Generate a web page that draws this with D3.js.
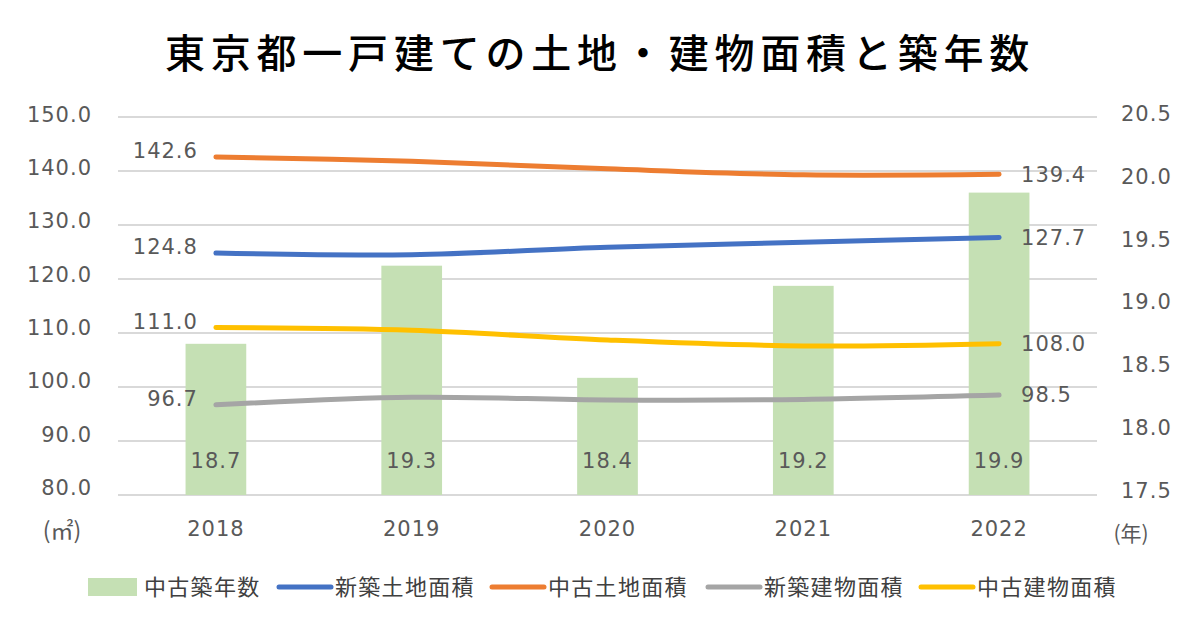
<!DOCTYPE html>
<html>
<head>
<meta charset="utf-8">
<script src="https://cdn.jsdelivr.net/npm/d3@7"></script>
<style>
  body { margin: 0; background: #fff; }
  text { font-family: "DejaVu Sans", Verdana, sans-serif; fill: #595959; }
  .jp { font-family: "Noto Sans CJK JP", sans-serif; }
</style>
</head>
<body>
<script>
const years = ["2018", "2019", "2020", "2021", "2022"]
const ageUsed = [18.7, 19.32, 18.43, 19.16, 19.9]        // 中古築年数 (right axis)
const landNew = [124.8, 124.5, 125.9, 126.8, 127.7]      // 新築土地面積
const landUsed = [142.6, 141.8, 140.4, 139.3, 139.4]     // 中古土地面積
const bldgNew = [96.7, 98.1, 97.6, 97.7, 98.5]           // 新築建物面積
const bldgUsed = [111.0, 110.5, 108.7, 107.6, 108.0]     // 中古建物面積
const leftTicks = [80, 90, 100, 110, 120, 130, 140, 150]
const rightTicks = [17.5, 18.0, 18.5, 19.0, 19.5, 20.0, 20.5]

const width = 1200
const height = 630

const series = [
    {name: "新築土地面積", values: landNew, color: "#4472C4"},
    {name: "中古土地面積", values: landUsed, color: "#ED7D31"},
    {name: "新築建物面積", values: bldgNew, color: "#A5A5A5"},
    {name: "中古建物面積", values: bldgUsed, color: "#FFC000"}
]
const barColor = "#C5E0B4"

const svg = d3.select("body").append("svg")
    .attr("width", width)
    .attr("height", height)

const x = d3.scaleBand().domain(years).range([118, 1097]).paddingInner(0.69).paddingOuter(0.345)
const yL = d3.scaleLinear().domain([80, 150]).range([495, 117])
const yR = d3.scaleLinear().domain([17.5, 20.5]).range([495, 117])
// tick labels sit on a slightly tighter spacing than the gridlines
const yLabL = d3.scaleLinear().domain([80, 150]).range([487, 114])
const yLabR = d3.scaleLinear().domain([17.5, 20.5]).range([490, 113])
const cx = d => x(d) + x.bandwidth() / 2

// title
svg.append("text")
    .attr("class", "jp")
    .attr("x", 600).attr("y", 68)
    .attr("text-anchor", "middle")
    .style("font-size", "40px")
    .style("font-weight", 500)
    .style("letter-spacing", "5.8px")
    .style("fill", "#000")
    .text("東京都一戸建ての土地・建物面積と築年数")

// gridlines
svg.append("g")
    .selectAll("line")
    .data(leftTicks)
    .enter().append("line")
    .attr("x1", 118).attr("x2", 1097)
    .attr("y1", d => yL(d)).attr("y2", d => yL(d))
    .attr("stroke", "#d9d9d9")
    .attr("stroke-width", 2)

// bars
svg.append("g")
    .selectAll("rect")
    .data(years)
    .enter().append("rect")
    .attr("x", d => x(d))
    .attr("width", x.bandwidth())
    .attr("y", (d, i) => yR(ageUsed[i]))
    .attr("height", (d, i) => yR(17.5) - yR(ageUsed[i]))
    .attr("fill", barColor)

svg.append("g")
    .selectAll("text")
    .data(years)
    .enter().append("text")
    .attr("x", d => cx(d))
    .attr("y", 468)
    .attr("text-anchor", "middle")
    .style("font-size", "21px")
    .style("letter-spacing", "1px")
    .text((d, i) => ageUsed[i].toFixed(1))

// lines
const line = d3.line()
    .x((v, i) => cx(years[i]))
    .y(v => yL(v))
    .curve(d3.curveCatmullRom.alpha(0.5))

series.forEach(s => {
    svg.append("path")
        .attr("d", line(s.values))
        .attr("fill", "none")
        .attr("stroke", s.color)
        .attr("stroke-width", 5)
        .attr("stroke-linecap", "round")

    svg.append("text")
        .attr("x", cx(years[0]) - 18)
        .attr("y", yL(s.values[0]))
        .attr("dy", "0.05em")
        .attr("text-anchor", "end")
        .style("font-size", "21px")
        .style("letter-spacing", "1px")
        .text(s.values[0].toFixed(1))

    svg.append("text")
        .attr("x", cx(years[4]) + 22)
        .attr("y", yL(s.values[4]))
        .attr("dy", "0.35em")
        .attr("text-anchor", "start")
        .style("font-size", "21px")
        .style("letter-spacing", "1px")
        .text(s.values[4].toFixed(1))
})

// axes
const axisL = svg.append("g")
    .attr("transform", "translate(92,0)")
    .call(d3.axisLeft(yL).tickValues(leftTicks).tickFormat(d3.format(".1f")).tickSize(0).tickPadding(0))
const axisR = svg.append("g")
    .attr("transform", "translate(1121,0)")
    .call(d3.axisRight(yR).tickValues(rightTicks).tickFormat(d3.format(".1f")).tickSize(0).tickPadding(0))
const axisB = svg.append("g")
    .attr("transform", "translate(0,517)")
    .call(d3.axisBottom(x).tickSize(0).tickPadding(0))

;[axisL, axisR, axisB].forEach(a => {
    a.select(".domain").remove()
    a.selectAll("text")
        .style("font-size", "21px")
        .style("letter-spacing", "1px")
        .style("font-family", "DejaVu Sans, sans-serif")
        .attr("fill", "#595959")
})
axisL.selectAll("text").attr("dy", "0.35em")
    .attr("transform", d => `translate(0,${yLabL(d) - yL(d)})`)
axisR.selectAll("text").attr("dy", "0.35em")
    .attr("transform", d => `translate(0,${yLabR(d) - yR(d)})`)
axisB.selectAll("text").attr("dy", "0.9em")

svg.append("text")
    .attr("class", "jp")
    .attr("x", 62).attr("y", 539)
    .attr("text-anchor", "middle")
    .style("font-size", "23px")
    .text("(㎡)")
svg.append("text")
    .attr("class", "jp")
    .attr("x", 1131).attr("y", 541)
    .attr("text-anchor", "middle")
    .style("font-size", "21px")
    .text("(年)")

// legend
const legendItems = [
    {name: "中古築年数", color: barColor, bar: true, x: 88},
    {name: series[0].name, color: series[0].color, x: 279},
    {name: series[1].name, color: series[1].color, x: 492},
    {name: series[2].name, color: series[2].color, x: 708},
    {name: series[3].name, color: series[3].color, x: 921}
]
const legend = svg.append("g")
legendItems.forEach(item => {
    if (item.bar) {
        legend.append("rect")
            .attr("x", item.x).attr("y", 578)
            .attr("width", 49).attr("height", 18)
            .attr("fill", item.color)
    } else {
        legend.append("line")
            .attr("x1", item.x).attr("x2", item.x + 52)
            .attr("y1", 587).attr("y2", 587)
            .attr("stroke", item.color)
            .attr("stroke-width", 5)
            .attr("stroke-linecap", "round")
    }
    legend.append("text")
        .attr("class", "jp")
        .attr("x", item.x + 56)
        .attr("y", 595)
        .style("font-size", "22px")
        .style("letter-spacing", "1.3px")
        .style("fill", "#404040")
        .text(item.name)
})
</script>
</body>
</html>
